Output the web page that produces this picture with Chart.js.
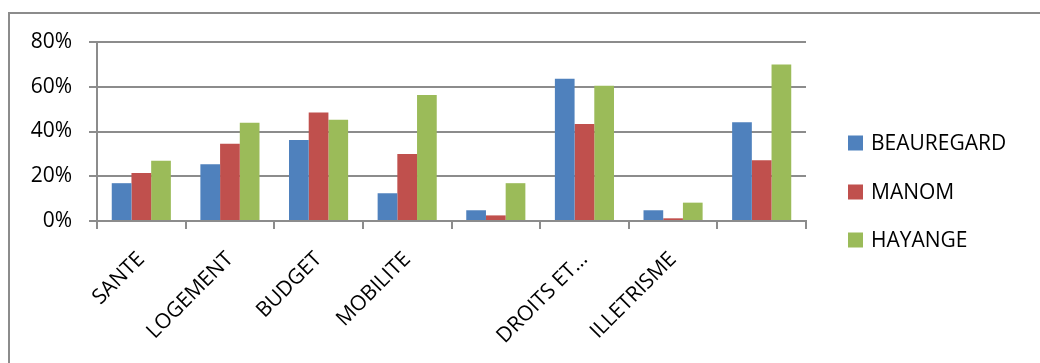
<!DOCTYPE html>
<html>
<head>
<meta charset="utf-8">
<script src="https://cdn.jsdelivr.net/npm/chart.js@4.4.1/dist/chart.umd.min.js"></script>
<style>
  html, body { margin: 0; padding: 0; background: #ffffff; overflow: hidden; }
  canvas { display: block; }
</style>
</head>
<body>
<canvas id="chart" width="1040" height="363"></canvas>
<script>
// Categories and per-site shares (percent)
const categories = ['SANTE', 'LOGEMENT', 'BUDGET', 'MOBILITE', '', 'DROITS ET…', 'ILLETRISME', ''];
const beauregard = [16.9, 25.4, 36.2, 12.4, 4.8, 63.6, 4.8, 44.1];
const manom      = [21.4, 34.5, 48.5, 29.9, 2.5, 43.3, 1.2, 27.2];
const hayange    = [26.9, 43.9, 45.3, 56.3, 16.9, 60.4, 8.2, 69.9];
const seriesNames = ['BEAUREGARD', 'MANOM', 'HAYANGE'];
const seriesColors = ['#4F81BD', '#C0504D', '#9BBB59'];
const yMax = 80;
const yStep = 20;

const FONT = '"Open Sans", "Noto Sans", sans-serif';
const GRID = '#8c8c8c';

// Outer frame (left and top edges only) plus the legend on the right
const framePlugin = {
  id: 'frame',
  beforeDraw(chart) {
    const ctx = chart.ctx;
    ctx.save();
    ctx.strokeStyle = GRID;
    ctx.lineWidth = 2;
    ctx.beginPath();
    ctx.moveTo(9, chart.height + 2);
    ctx.lineTo(9, 13);
    ctx.lineTo(chart.width + 2, 13);
    ctx.stroke();
    ctx.restore();
  },
  afterDraw(chart) {
    const ctx = chart.ctx;
    ctx.save();
    ctx.font = '21px ' + FONT;
    ctx.textBaseline = 'middle';
    ctx.textAlign = 'left';
    const x0 = 848, yFirst = 143, rowGap = 48.5, box = 15;
    chart.data.datasets.forEach((ds, i) => {
      const yc = Math.round(yFirst + i * rowGap);
      ctx.fillStyle = ds.backgroundColor;
      ctx.fillRect(x0, yc - box / 2, box, box);
      ctx.fillStyle = '#000000';
      ctx.fillText(ds.label, x0 + 23, yc + 1);
    });
    ctx.restore();
  }
};

new Chart(document.getElementById('chart'), {
  type: 'bar',
  data: {
    labels: categories,
    datasets: [
      { label: seriesNames[0], data: beauregard, backgroundColor: seriesColors[0] },
      { label: seriesNames[1], data: manom, backgroundColor: seriesColors[1] },
      { label: seriesNames[2], data: hayange, backgroundColor: seriesColors[2] }
    ]
  },
  options: {
    responsive: false,
    animation: false,
    devicePixelRatio: 1,
    layout: { padding: { left: 0, top: 42, right: 234, bottom: 0 } },
    datasets: {
      bar: { categoryPercentage: 0.667, barPercentage: 1.0, borderWidth: 0 }
    },
    plugins: {
      legend: { display: false },
      tooltip: { enabled: false }
    },
    scales: {
      x: {
        afterFit(scale) { scale.height = 142; },
        grid: {
          offset: true,
          drawOnChartArea: false,
          drawTicks: true,
          tickLength: 8,
          color: GRID,
          lineWidth: 2
        },
        border: { display: true, color: GRID, width: 2 },
        ticks: {
          autoSkip: false,
          maxRotation: 45,
          minRotation: 45,
          padding: 18,
          color: '#000000',
          font: { family: FONT, size: 21 }
        }
      },
      y: {
        min: 0,
        max: yMax,
        afterFit(scale) { scale.width = 97; },
        grid: {
          color: GRID,
          lineWidth: 2,
          tickLength: 8,
          drawTicks: true
        },
        border: { display: true, color: GRID, width: 2 },
        ticks: {
          stepSize: yStep,
          padding: 17,
          color: '#000000',
          font: { family: FONT, size: 21 },
          callback: (v) => v + '%'
        }
      }
    }
  },
  plugins: [framePlugin]
});
</script>
</body>
</html>
